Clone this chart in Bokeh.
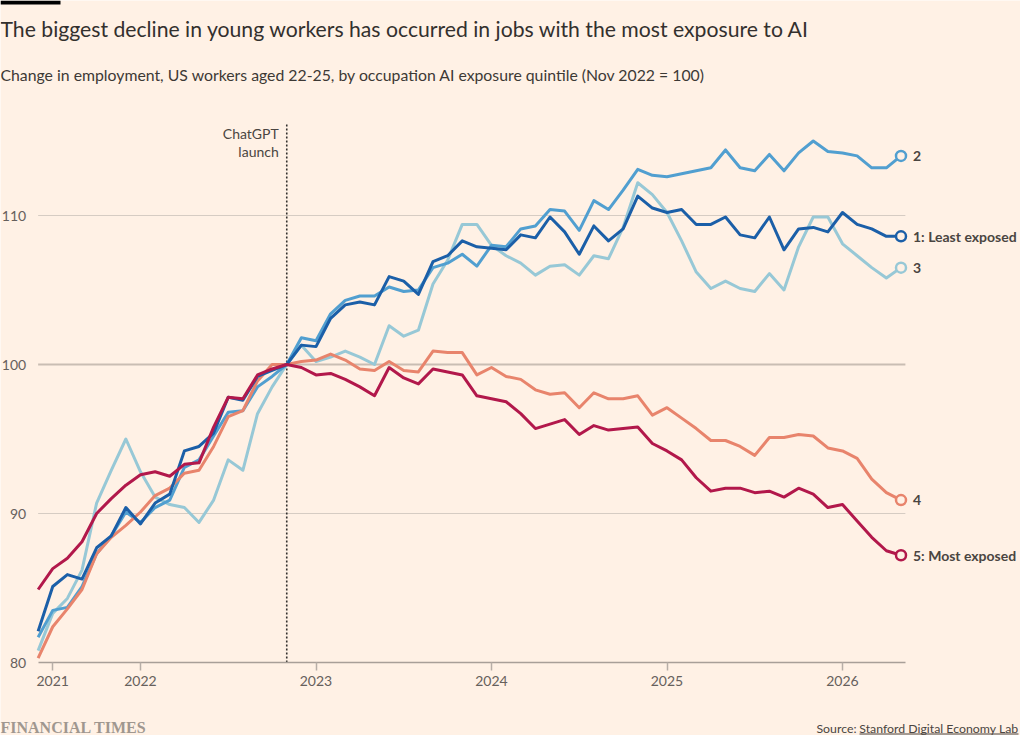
import pandas as pd
from bokeh.plotting import figure
from bokeh.models import Label, FixedTicker, BoxAnnotation, Range1d
from bokeh.embed import file_html
from bokeh.resources import INLINE

# ---------------- data ----------------
months = pd.date_range("2021-06-01", periods=60, freq="MS")
xs = [d.year + (d.month - 1) / 12 for d in months]

s1 = [82.1, 85.1, 85.9, 85.6, 87.7, 88.5, 90.4, 89.3, 90.7, 91.3, 94.2, 94.5, 95.4, 97.8, 97.6, 99.2, 99.6, 100.0,
      101.3, 101.2, 103.1, 104.0, 104.2, 104.0, 105.9, 105.6, 104.7, 106.9, 107.3, 108.3, 107.9, 107.8,
      107.7, 108.7, 108.5, 109.9, 108.9, 107.4, 109.3, 108.3, 109.1, 111.3, 110.5, 110.2, 110.4, 109.4,
      109.4, 109.9, 108.7, 108.5, 109.9, 107.7, 109.1, 109.2, 108.9, 110.2, 109.4, 109.1, 108.6, 108.6]
s2 = [81.7, 83.5, 83.7, 85.1, 87.3, 88.5, 90.1, 89.4, 90.4, 90.9, 93.1, 93.6, 95.2, 96.8, 96.9, 98.5, 99.2, 100.0,
      101.8, 101.6, 103.4, 104.3, 104.6, 104.6, 105.2, 104.9, 105.0, 106.5, 106.8, 107.4, 106.6, 108.0,
      107.9, 109.1, 109.3, 110.4, 110.3, 109.0, 111.0, 110.4, 111.7, 113.1, 112.7, 112.6, 112.8, 113.0,
      113.2, 114.4, 113.2, 113.0, 114.1, 113.0, 114.2, 115.0, 114.3, 114.2, 114.0, 113.2, 113.2, 114.0]
s3 = [80.8, 83.3, 84.3, 86.2, 90.7, 92.9, 95.0, 92.8, 91.1, 90.6, 90.4, 89.4, 90.9, 93.6, 92.9, 96.7, 98.5, 100.0,
      101.3, 100.2, 100.5, 100.9, 100.5, 100.0, 102.6, 101.9, 102.3, 105.4, 107.0, 109.4, 109.4, 108.0,
      107.3, 106.8, 106.0, 106.6, 106.7, 106.0, 107.3, 107.1, 109.2, 112.2, 111.4, 110.2, 108.3, 106.2,
      105.1, 105.6, 105.1, 104.9, 106.1, 105.0, 107.9, 109.9, 109.9, 108.1, 107.3, 106.5, 105.8, 106.5]
s4 = [80.3, 82.4, 83.6, 84.9, 87.3, 88.4, 89.2, 90.1, 91.2, 91.7, 92.7, 92.9, 94.5, 96.5, 96.9, 98.9, 100.0, 100.0,
      100.2, 100.3, 100.7, 100.3, 99.7, 99.6, 100.2, 99.6, 99.5, 100.9, 100.8, 100.8, 99.3, 99.8,
      99.2, 99.0, 98.3, 98.0, 98.1, 97.1, 98.1, 97.7, 97.7, 97.9, 96.6, 97.1, 96.4, 95.7,
      94.9, 94.9, 94.5, 93.9, 95.1, 95.1, 95.3, 95.2, 94.4, 94.2, 93.7, 92.3, 91.4, 90.9]
s5 = [84.9, 86.3, 87.0, 88.1, 90.0, 91.0, 91.9, 92.6, 92.8, 92.5, 93.3, 93.4, 95.8, 97.8, 97.7, 99.3, 99.7, 100.0,
      99.8, 99.3, 99.4, 99.0, 98.5, 97.9, 99.8, 99.1, 98.7, 99.7, 99.5, 99.3, 97.9, 97.7,
      97.5, 96.7, 95.7, 96.0, 96.3, 95.3, 95.9, 95.6, 95.7, 95.8, 94.7, 94.2, 93.6, 92.4,
      91.5, 91.7, 91.7, 91.4, 91.5, 91.1, 91.7, 91.3, 90.4, 90.6, 89.5, 88.4, 87.5, 87.2]

series_names = ["1: Least exposed", "2", "3", "4", "5: Most exposed"]
series_values = [s1, s2, s3, s4, s5]
series_colors = ["#1b5fa8", "#519fd0", "#97c8d6", "#e8846c", "#b2184b"]
draw_order = [2, 1, 3, 0, 4]

x_tick_positions = [2021.5, 2022, 2023, 2024, 2025, 2026]
x_tick_labels = ["2021", "2022", "2023", "2024", "2025", "2026"]
y_ticks = [80, 90, 100, 110]
y_grid = [90, 110]
baseline_value = 100
chatgpt_x = 2022 + 10 / 12   # Nov 2022
chatgpt_top = 116.2

title = "The biggest decline in young workers has occurred in jobs with the most exposure to AI"
subtitle = "Change in employment, US workers aged 22-25, by occupation AI exposure quintile (Nov 2022 = 100)"
source_prefix = "Source:"
source_name = "Stanford Digital Economy Lab"
brand = "FINANCIAL TIMES"

# ---------------- styling ----------------
BG = "#fff1e5"
FONT = "Lato"
TXT = "#33302e"
W, H = 1020, 735
PXY = 175.5          # pixels per year
PXU = 14.9           # pixels per index point
AXIS_Y = 662         # pixel row of the x axis (value 80)


def dx(px):
    return 2022 + (px - 140) / PXY


def dy(py):
    return y_ticks[0] + (AXIS_Y - py) / PXU


def text(x, y, s, size, color="#4a4541", align="left", font=FONT, style="normal", xoff=0):
    p.add_layout(Label(x=x, y=y, x_offset=xoff, text=s, text_align=align, text_baseline="middle",
                       text_font=font, text_font_size=size, text_font_style=style,
                       text_color=color))


p = figure(width=W, height=H, output_backend="svg", toolbar_location=None,
           x_range=Range1d(dx(0), dx(W)), y_range=Range1d(dy(H), dy(0)),
           y_axis_location=None, min_border=0)
p.background_fill_color = BG
p.border_fill_color = BG
p.outline_line_color = None
p.xgrid.visible = False
p.ygrid.visible = False

x_end = xs[-1] + 0.025

# gridlines and baseline
p.segment(x0=[xs[0]] * len(y_grid), x1=[x_end] * len(y_grid), y0=y_grid, y1=y_grid,
          line_color="#d6ccc3", line_width=1, level="underlay")
p.segment(x0=[xs[0]], x1=[x_end], y0=[baseline_value], y1=[baseline_value],
          line_color="#c9bdb3", line_width=2.2, level="underlay")
# ChatGPT launch marker
p.segment(x0=[chatgpt_x], x1=[chatgpt_x], y0=[y_ticks[0]], y1=[chatgpt_top],
          line_color=TXT, line_width=1.6, line_dash="2 2")

ax = p.xaxis[0]
ax.fixed_location = y_ticks[0]
ax.ticker = FixedTicker(ticks=x_tick_positions)
ax.major_label_overrides = {pos: lab for pos, lab in zip(x_tick_positions, x_tick_labels)}
ax.bounds = (xs[0], x_end)
ax.axis_line_color = "#a89f98"
ax.axis_line_width = 1.5
ax.major_tick_line_color = "#b7aea7"
ax.major_tick_line_width = 1.5
ax.major_tick_out = 8
ax.major_tick_in = 0
ax.minor_tick_line_color = None
ax.major_label_standoff = 5
ax.major_label_text_font = FONT
ax.major_label_text_font_size = "14px"
ax.major_label_text_color = "#66605c"

for v in y_ticks:
    text(xs[0], v, str(v), "14px", color="#66605c", align="right", xoff=-12)

for k in draw_order:
    p.line(xs, series_values[k], line_color=series_colors[k], line_width=3, line_join="round")

for k in range(5):
    p.scatter([xs[-1]], [series_values[k][-1]], marker="circle", size=10,
              fill_color=BG, line_color=series_colors[k], line_width=2.5)
    text(xs[-1], series_values[k][-1], series_names[k], "14px", style="bold", xoff=12)

text(chatgpt_x, dy(133), "ChatGPT", "14px", align="right", xoff=-8)
text(chatgpt_x, dy(150.5), "launch", "14px", align="right", xoff=-8)

# header
p.add_layout(BoxAnnotation(left=dx(0), right=dx(60), top=dy(0), bottom=dy(4),
                           fill_color="#000000", fill_alpha=1, line_color=None))
text(dx(0), dy(28), title, "21.2px", color=TXT)
text(dx(0), dy(74), subtitle, "15.8px", color="#3d3935")

# footer
text(dx(0), dy(726.5), brand, "16px", color="#a0978f", font="Liberation Serif", style="bold")
src_w = 159
text(dx(1018), dy(727.5), source_name, "12.3px", align="right")
text(dx(1018 - src_w - 3), dy(727.5), source_prefix, "12.3px", align="right")
p.segment(x0=[dx(1018 - src_w)], x1=[dx(1018)], y0=[dy(733.5)], y1=[dy(733.5)],
          line_color="#4a4541", line_width=1)

open("out.html", "w").write(file_html(p, INLINE))
